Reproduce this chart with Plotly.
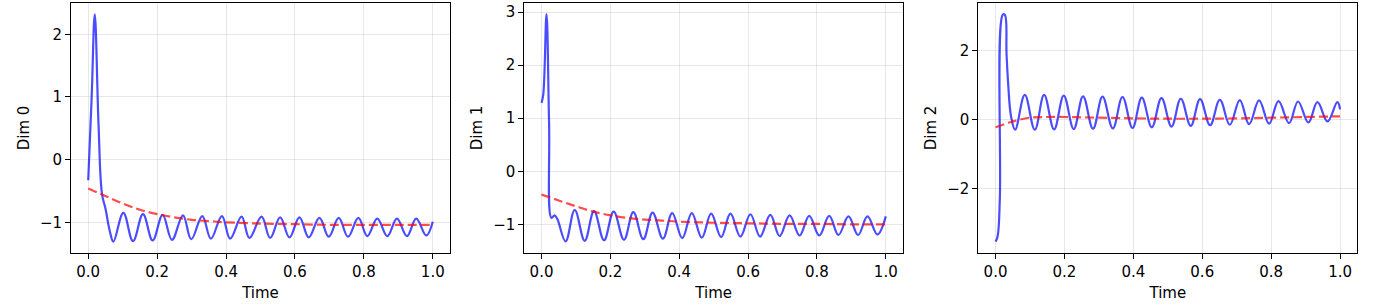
import plotly.graph_objects as go

# ---------------- data ----------------
dim0_t = [0.000, 0.010, 0.019, 0.030, 0.040, 0.050, 0.063, 0.073, 0.102, 0.130, 0.159, 0.187,
          0.216, 0.243, 0.275, 0.299, 0.331, 0.356, 0.388, 0.412, 0.445, 0.468, 0.503, 0.528,
          0.557, 0.584, 0.613, 0.640, 0.671, 0.698, 0.727, 0.754, 0.784, 0.810, 0.839, 0.868,
          0.896, 0.925, 0.952, 0.981, 1.000]
dim0_v = [-0.33, 1.00, 2.32, 0.55, -0.55, -0.78, -1.15, -1.31, -0.85, -1.30, -0.87, -1.29,
          -0.88, -1.28, -0.89, -1.27, -0.90, -1.26, -0.90, -1.26, -0.91, -1.25, -0.91, -1.25,
          -0.92, -1.24, -0.92, -1.24, -0.93, -1.23, -0.93, -1.23, -0.93, -1.22, -0.94, -1.22,
          -0.94, -1.22, -0.94, -1.21, -0.99]

dim1_t = [0.000, 0.005, 0.0145, 0.022, 0.029, 0.038, 0.046, 0.070, 0.0965, 0.1255, 0.1525,
          0.1816, 0.2096, 0.2396, 0.2667, 0.2957, 0.3226, 0.3525, 0.3797, 0.4087, 0.4365,
          0.4655, 0.4928, 0.5217, 0.5487, 0.5777, 0.6067, 0.6348, 0.6646, 0.6916, 0.7206,
          0.7496, 0.7777, 0.8067, 0.8357, 0.8626, 0.8916, 0.9197, 0.9467, 0.9757, 1.000]
dim1_v = [1.29, 1.44, 2.96, 0.90, -0.88, -0.83, -0.90, -1.32, -0.73, -1.31, -0.75,
          -1.30, -0.76, -1.29, -0.77, -1.28, -0.78, -1.27, -0.79, -1.26, -0.79,
          -1.25, -0.80, -1.24, -0.80, -1.23, -0.81, -1.23, -0.82, -1.22, -0.83,
          -1.21, -0.84, -1.21, -0.84, -1.20, -0.85, -1.20, -0.85, -1.19, -0.85]

dim2_t = [0.000, 0.006, 0.0125, 0.021, 0.027, 0.032, 0.037, 0.045, 0.057, 0.085, 0.114,
          0.141, 0.170, 0.198, 0.227, 0.254, 0.283, 0.3105, 0.3405, 0.3685, 0.3976, 0.4245,
          0.4536, 0.4817, 0.5108, 0.5377, 0.5667, 0.5937, 0.6228, 0.651, 0.680, 0.709,
          0.736, 0.765, 0.794, 0.8213, 0.852, 0.878, 0.908, 0.9344, 0.9634, 0.992, 1.000]
dim2_v = [-3.54, -3.39, -2.30, 3.05, 3.05, 1.90, 1.00, 0.10, -0.29, 0.72, -0.29,
          0.72, -0.28, 0.70, -0.27, 0.68, -0.26, 0.67, -0.25, 0.66, -0.24, 0.64,
          -0.22, 0.63, -0.20, 0.61, -0.18, 0.60, -0.16, 0.58, -0.145, 0.57,
          -0.13, 0.56, -0.115, 0.54, -0.10, 0.53, -0.08, 0.51, -0.05, 0.51, 0.30]

trend_t = [0.0, 0.05, 0.1, 0.15, 0.2, 0.25, 0.3, 0.35, 0.4, 0.5, 0.6, 0.7, 0.8, 0.9, 1.0]
trend0 = [-0.46, -0.58, -0.70, -0.80, -0.87, -0.92, -0.96, -0.98, -1.00, -1.02, -1.03, -1.04, -1.04, -1.04, -1.04]
trend1 = [-0.44, -0.55, -0.66, -0.76, -0.83, -0.88, -0.91, -0.93, -0.95, -0.97, -0.98, -0.99, -0.99, -1.00, -1.00]
trend2 = [-0.22, -0.05, 0.06, 0.08, 0.08, 0.07, 0.06, 0.05, 0.04, 0.03, 0.03, 0.04, 0.06, 0.08, 0.10]

y_titles = ["Dim 0", "Dim 1", "Dim 2"]
y_ranges = [[-1.49, 2.50], [-1.54, 3.17], [-3.87, 3.39]]
y_dticks = [1, 1, 2]

series = [(dim0_t, dim0_v, trend0), (dim1_t, dim1_v, trend1), (dim2_t, dim2_v, trend2)]

# ---------------- layout ----------------
W, H = 1374, 308
x_doms = [[71 / W, 450 / W], [524.3 / W, 903 / W], [978.3 / W, 1357.3 / W]]
y_dom = [1 - 253 / H, 1 - 3 / H]

FONT = "DejaVu Sans"
BLUE = "rgba(0,0,255,0.7)"
RED = "rgba(255,0,0,0.7)"
GRID = "rgba(176,176,176,0.3)"

fig = go.Figure()
layout = dict(
    width=W, height=H,
    margin=dict(l=0, r=0, t=0, b=0),
    paper_bgcolor="white", plot_bgcolor="white",
    showlegend=False,
    font=dict(family=FONT, size=15, color="black"),
)

for i, (tt, vv, tr) in enumerate(series):
    sfx = "" if i == 0 else str(i + 1)
    xa, ya = "x" + sfx, "y" + sfx
    fig.add_trace(go.Scatter(x=tt, y=vv, mode="lines", xaxis=xa, yaxis=ya,
                             line=dict(color=BLUE, width=2.2, shape="spline", smoothing=1.1)))
    fig.add_trace(go.Scatter(x=trend_t, y=tr, mode="lines", xaxis=xa, yaxis=ya,
                             line=dict(color=RED, width=2.2, dash="9px,4px", shape="spline")))
    layout["xaxis" + sfx] = dict(
        domain=x_doms[i], anchor=ya, range=[-0.05, 1.05],
        tick0=0, dtick=0.2, tickformat=".1f",
        showgrid=True, gridcolor=GRID, gridwidth=1, zeroline=False,
        showline=True, linecolor="black", linewidth=1, mirror=True,
        ticks="outside", ticklen=5, tickcolor="black",
        tickfont=dict(family=FONT, size=15),
        title=dict(text="Time", font=dict(family=FONT, size=15), standoff=7),
    )
    layout["yaxis" + sfx] = dict(
        domain=y_dom, anchor=xa, range=y_ranges[i],
        tick0=0, dtick=y_dticks[i],
        showgrid=True, gridcolor=GRID, gridwidth=1, zeroline=False,
        showline=True, linecolor="black", linewidth=1, mirror=True,
        ticks="outside", ticklen=5, tickcolor="black",
        tickfont=dict(family=FONT, size=15),
        title=dict(text=y_titles[i], font=dict(family=FONT, size=15), standoff=6),
    )

fig.update_layout(**layout)
fig.write_html("out.html", config={"displayModeBar": False},
               post_script="document.body.style.margin='0px';document.body.style.overflow='hidden';")
